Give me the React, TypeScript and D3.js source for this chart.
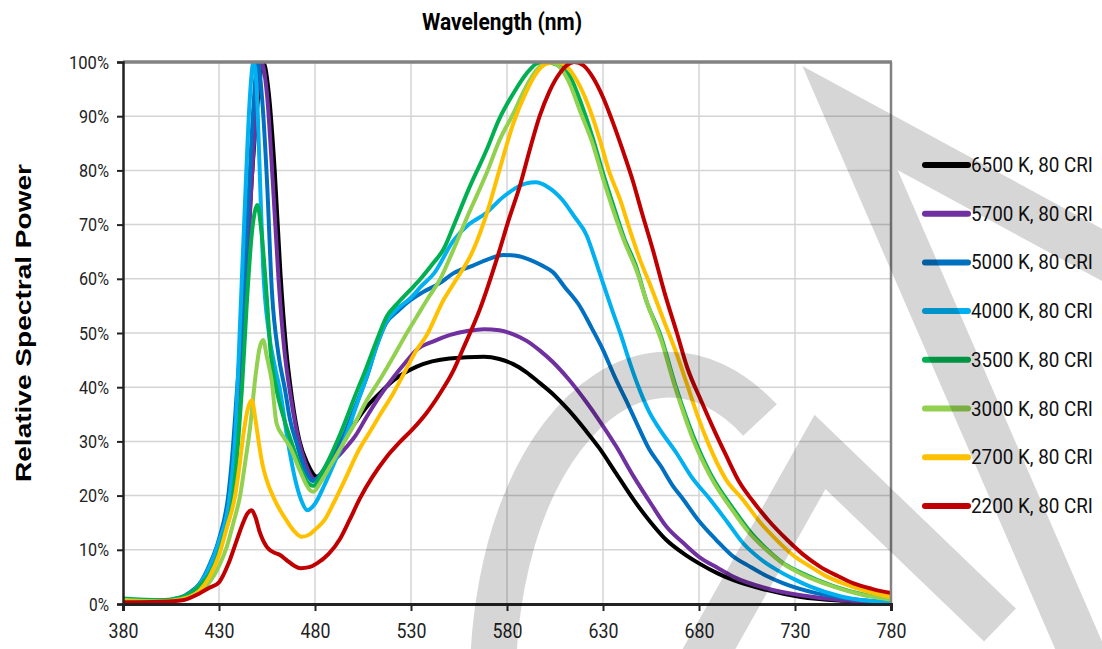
import { useEffect, useRef } from "react";
import * as d3 from "d3";

type Pt = [number, number];

// wavelength (nm) / relative power (%)
const xTicks = [380, 430, 480, 530, 580, 630, 680, 730, 780];
const yTicks = [0, 10, 20, 30, 40, 50, 60, 70, 80, 90, 100];

const seriesNames = [
  "6500 K, 80 CRI",
  "5700 K, 80 CRI",
  "5000 K, 80 CRI",
  "4000 K, 80 CRI",
  "3500 K, 80 CRI",
  "3000 K, 80 CRI",
  "2700 K, 80 CRI",
  "2200 K, 80 CRI",
];
const seriesColors = ["#000000", "#7030a0", "#0070c0", "#00b0f0", "#00b050", "#92d050", "#ffc000", "#c00000"];

const cct6500: Pt[] = [
  [380, 0.8], [400, 0.6], [410, 1.0], [415, 1.8], [420, 3.2], [425, 6.5], [430, 11], [435, 19], [438, 28],
  [441, 42], [444, 60], [447, 78], [450, 92], [453, 100], [456, 94], [459, 80], [462, 61], [465, 47], [468, 38],
  [472, 30], [476, 26], [481, 23.5], [487, 26], [493, 29.6], [500, 33], [507, 36.4], [514, 39], [521, 41.3],
  [533, 43.8], [550, 45.3], [568, 45.6], [576, 45.2], [583, 44.3], [590, 42.8], [597, 40.8], [604, 38.7],
  [612, 35.8], [621, 32], [628, 28.8], [637, 24], [646, 19.2], [655, 15], [663, 11.8], [672, 9.3], [680, 7.5],
  [690, 5.6], [698, 4.4], [715, 2.6], [733, 1.3], [755, 0.6], [780, 0.3],
];

const cct5700: Pt[] = [
  [380, 0.8], [400, 0.6], [410, 1.0], [415, 1.8], [420, 3.2], [425, 6.5], [430, 11], [435, 19.5], [438, 29],
  [441, 43], [444, 57], [447, 78], [450, 94], [452, 100], [455, 94], [458, 78], [461, 60], [464, 47], [467, 39],
  [471, 31], [475, 26], [480, 23], [487, 25.5], [495, 28.4], [501, 31], [507, 34.6], [514, 38.5], [521, 41.9],
  [527, 44.5], [533, 46.9], [542, 48.5], [550, 49.6], [560, 50.4], [568, 50.7], [576, 50.5], [583, 49.8],
  [590, 48.6], [597, 46.8], [604, 44.6], [612, 41.5], [621, 37.4], [628, 33.9], [637, 29], [646, 23.5],
  [655, 18.5], [663, 14.3], [672, 11.2], [680, 8.7], [690, 6.6], [698, 5], [715, 2.9], [733, 1.6], [755, 0.7],
  [780, 0.3],
];

const cct5000: Pt[] = [
  [380, 0.8], [400, 0.6], [410, 1.2], [415, 2.2], [420, 3.8], [425, 7.2], [430, 12], [435, 20.5], [437.5, 30],
  [439, 37.6], [442, 52], [445, 72], [448, 92], [450, 100], [452.5, 93], [455, 78], [457.5, 58], [461, 46],
  [464.4, 39.5], [467, 34], [470.4, 29.7], [474, 25.5], [479, 22.7], [484, 24.5], [489, 27.5], [494.7, 30.9],
  [501, 36.5], [507, 41.9], [512, 47.5], [517, 51.8], [523, 54], [529.5, 56], [536, 57.5], [545, 59.2],
  [552, 61], [562, 62.4], [570, 63.6], [578, 64.4], [584, 64.3], [592, 63.5], [598, 62.5], [604, 61.2],
  [610, 58.5], [618, 54.9], [624, 51], [630, 46.9], [636, 42], [642, 37.6], [648, 33], [654, 28.6],
  [660, 25.5], [666, 22], [672, 19.2], [680, 15.3], [689, 11.8], [697, 9], [706.5, 6.9], [715, 5.2],
  [724, 3.8], [741, 2], [760, 0.9], [780, 0.3],
];

const cct4000: Pt[] = [
  [380, 0.9], [400, 0.5], [410, 1.1], [415, 2], [420, 3.6], [425, 6.8], [430, 11.5], [435.5, 19.7], [438.3, 30],
  [441, 52], [444, 78], [446, 93], [448, 100], [449.5, 96], [451, 82], [453, 62], [456, 50], [459, 44],
  [462, 39], [466, 29.7], [470, 22.5], [473, 19], [476, 17.3], [480, 18.5], [485, 22], [490, 26], [495, 30],
  [501, 36], [507, 42], [512, 47.5], [517, 52], [523, 54.5], [530, 56.5], [535, 58.5], [542, 61], [552, 67],
  [560, 70], [569, 72.1], [578, 75.1], [590, 77.6], [595, 77.8], [601, 77], [609, 74.5], [615, 71.5],
  [621.5, 68], [626, 63.5], [630, 59.2], [635, 54], [639, 50], [644, 44.5], [648, 40.5], [654, 35.5],
  [660, 32], [668, 28], [676, 23.5], [686, 19.2], [695, 15], [703, 11.2], [712, 8.3], [720.5, 6.3],
  [730, 4.5], [738, 3.2], [755, 1.3], [780, 0.3],
];

const cct3500: Pt[] = [
  [380, 1.0], [400, 0.7], [410, 1.2], [415, 2], [420, 3.4], [425, 5.5], [428, 7.6], [432, 12], [437.2, 19.7],
  [440, 30], [442, 40], [444.4, 55], [447, 68], [450, 73.6], [452, 69], [454.8, 57], [457, 46], [460, 39.5],
  [464, 34], [467.9, 29.7], [472, 25.5], [476, 22.5], [479, 21.8], [484, 24.5], [489, 28], [494.7, 32.7],
  [501, 38.5], [507, 43.8], [512, 48.5], [517.3, 53], [523, 55.5], [529.5, 57.9], [535, 60], [541.6, 62.9],
  [547, 65.5], [552, 69.6], [560, 76.5], [569.4, 83.8], [576, 89.5], [583.3, 94.2], [590, 97.8], [596, 99.8],
  [600, 100], [606, 99.5], [612.8, 97.3], [619, 92], [625, 85.6], [630, 79.5], [635.4, 73.5], [641, 67.5],
  [647, 62.5], [653, 55.5], [660, 49.5], [668, 40], [677, 31], [686, 24], [698, 17.5], [707, 13.2],
  [715, 10.2], [724, 7.5], [733, 5.8], [750, 3.3], [765, 1.8], [780, 0.9],
];

const cct3000: Pt[] = [
  [380, 0.8], [400, 0.5], [410, 0.9], [415, 1.4], [420, 2.4], [425, 4], [430, 7], [434, 10.5], [437.5, 15],
  [441, 20], [444, 27], [446, 32], [449, 42], [451, 47], [453, 48.7], [455, 45.5], [457.4, 41.3], [460, 33.3],
  [463.5, 30.9], [467, 29], [472, 24.7], [477.4, 21], [479, 20.7], [483, 22.5], [488, 25.5], [494.7, 29.6],
  [501, 33.5], [507, 37.6], [514, 41.5], [520.8, 45.6], [527, 49.5], [533, 53], [539, 56.5], [545, 59.8],
  [552, 65.3], [560, 72], [569.4, 79.5], [576, 85.5], [583.3, 90.5], [590, 95.5], [595.4, 98.5], [602, 100],
  [606, 99.5], [612, 96.5], [618, 91], [625, 84.5], [630, 78.5], [635, 73], [641, 67], [647.5, 61.5],
  [653, 55.5], [660, 49], [668, 39.5], [677, 30.3], [686, 23.5], [698, 17], [706, 13.2], [715, 10],
  [724, 7.4], [733, 5.6], [750, 3.2], [765, 1.7], [780, 0.8],
];

const cct2700: Pt[] = [
  [380, 0.5], [400, 0.4], [410, 0.8], [415, 1.3], [420, 2.5], [425, 5], [430, 9], [434, 14], [438.3, 19.8],
  [440.5, 25], [442.7, 31.3], [445, 36], [447, 37.6], [449, 34], [450.5, 30.3], [452.5, 26], [454.8, 22.9],
  [459, 19.2], [465, 15.5], [469, 13.5], [473, 12.4], [477, 12.8], [480, 13.7], [485, 15.5], [489.5, 18.5],
  [495, 22.5], [503, 28.5], [509, 32], [514, 35], [520.8, 38.9], [527, 43], [533, 46.9], [538, 49.5],
  [546.8, 56], [552, 59], [562.4, 65.3], [569.4, 72], [576, 80], [583.3, 88.7], [590, 94.5], [595.4, 98],
  [600, 99.6], [606, 100], [611, 99.2], [616, 96.8], [622, 92.3], [628.4, 85.6], [633, 80], [639, 74.5],
  [644, 69], [649.3, 63.5], [655, 58.5], [662, 52], [668, 46.5], [673.6, 40.7], [679, 35], [685, 29.5],
  [694, 23], [703, 19.2], [712, 15], [720.5, 11.8], [729, 9], [738, 6.9], [747, 5], [755, 3.8], [767, 2.4],
  [780, 1.3],
];

const cct2200: Pt[] = [
  [380, 0.3], [400, 0.4], [411, 0.7], [420, 2], [425, 3], [430, 4], [435, 7.5], [439, 11.5], [442, 14.5],
  [445, 16.8], [447, 17.3], [449, 16], [451, 13.5], [454.8, 10.6], [458, 9.6], [462, 9], [465.2, 8.1],
  [469, 7.1], [472.5, 6.6], [477, 6.8], [481, 7.5], [487, 9.2], [493, 12], [498, 15.5], [503.4, 19.5],
  [510, 23.5], [517, 27], [524, 29.8], [531, 32.3], [538, 35.2], [545, 38.8], [552, 43], [557, 47], [566, 54.5],
  [575, 64], [581, 71], [587, 77.5], [592, 84], [597, 90], [602, 94.5], [607.6, 98], [615, 100],
  [620, 99.3], [625, 97], [630, 93.5], [635, 89], [640, 84], [645.6, 78], [650, 72.5], [656, 65.3],
  [662, 57.5], [668.5, 50], [674, 43.5], [681, 37.6], [688, 32], [694, 27.5], [701, 22.5], [708, 19],
  [716, 15.5], [726, 11.8], [734, 9.2], [743, 6.9], [752, 5.2], [760.5, 3.8], [770, 2.8], [780, 2],
];

const seriesData = [cct6500, cct5700, cct5000, cct4000, cct3500, cct3000, cct2700, cct2200];

const W = 1102;
const H = 649;
const narrow = "Roboto, 'Liberation Sans', sans-serif";

export default function App() {
  const svgRef = useRef<SVGSVGElement>(null);

  useEffect(() => {
    if (!svgRef.current) return;
    const svg = d3.select(svgRef.current);
    svg.selectAll("*").remove();

    const margin = { top: 62, right: 211, bottom: 45, left: 123 };
    const x = d3.scaleLinear().domain([380, 780]).range([margin.left, W - margin.right]);
    const y = d3.scaleLinear().domain([0, 100]).range([H - margin.bottom, margin.top]);
    const [x0, x1] = x.range();
    const [y0, y1] = y.range();

    svg.append("rect").attr("width", W).attr("height", H).attr("fill", "#fff");

    // grid
    svg
      .append("g")
      .selectAll("line")
      .data(xTicks.slice(1, -1))
      .join("line")
      .attr("x1", (d) => x(d))
      .attr("x2", (d) => x(d))
      .attr("y1", y1)
      .attr("y2", y0)
      .attr("stroke", "#d4d4d4")
      .attr("stroke-width", 1.5);
    svg
      .append("g")
      .selectAll("line")
      .data(yTicks.slice(1, -1))
      .join("line")
      .attr("x1", x0)
      .attr("x2", x1)
      .attr("y1", (d) => y(d))
      .attr("y2", (d) => y(d))
      .attr("stroke", "#d4d4d4")
      .attr("stroke-width", 1.5);

    svg
      .append("defs")
      .append("clipPath")
      .attr("id", "plot-clip")
      .append("rect")
      .attr("x", x0)
      .attr("y", y1 - 1)
      .attr("width", x1 - x0)
      .attr("height", y0 - y1 + 1);

    const line = d3
      .line<Pt>()
      .x((d) => x(d[0]))
      .y((d) => y(d[1]))
      .curve(d3.curveMonotoneX);

    svg
      .append("g")
      .attr("clip-path", "url(#plot-clip)")
      .selectAll("path")
      .data(seriesData)
      .join("path")
      .attr("d", (d) => line(d))
      .attr("fill", "none")
      .attr("stroke", (_, i) => seriesColors[i])
      .attr("stroke-width", 4)
      .attr("stroke-linejoin", "round")
      .attr("stroke-linecap", "round");

    // frame
    svg.append("line").attr("x1", x0).attr("x2", x1 + 1).attr("y1", y1).attr("y2", y1)
      .attr("stroke", "#828282").attr("stroke-width", 3.5);
    svg.append("line").attr("x1", x1).attr("x2", x1).attr("y1", y1).attr("y2", y0)
      .attr("stroke", "#828282").attr("stroke-width", 2.5);

    // y axis
    const yAxis = svg.append("g").attr("transform", `translate(${x0},0)`).call(
      d3.axisLeft(y).tickValues(yTicks).tickSize(6).tickPadding(8).tickFormat((d) => `${d}%`),
    );
    yAxis.select(".domain").attr("stroke", "#222").attr("stroke-width", 2.5);
    yAxis.selectAll(".tick line").attr("stroke", "#222").attr("stroke-width", 2);
    yAxis
      .selectAll<SVGTextElement, number>(".tick text")
      .attr("fill", "#222")
      .attr("font-family", narrow)
      .attr("font-size", 19)
      .attr("textLength", (d) => `${d}%`.length * 10)
      .attr("lengthAdjust", "spacingAndGlyphs");

    // x axis
    const xAxis = svg.append("g").attr("transform", `translate(0,${y0})`).call(
      d3.axisBottom(x).tickValues(xTicks).tickSize(7).tickPadding(12).tickFormat((d) => String(d)),
    );
    xAxis.select(".domain").attr("stroke", "#222").attr("stroke-width", 3);
    xAxis.selectAll(".tick line").attr("stroke", "#222").attr("stroke-width", 2);
    xAxis
      .selectAll(".tick text")
      .attr("fill", "#222")
      .attr("font-family", narrow)
      .attr("font-size", 21)
      .attr("textLength", 30)
      .attr("lengthAdjust", "spacingAndGlyphs");

    // titles
    svg.append("text").attr("x", 502).attr("y", 30).attr("text-anchor", "middle")
      .attr("font-family", narrow).attr("font-weight", "bold").attr("font-size", 23)
      .attr("textLength", 160).attr("lengthAdjust", "spacingAndGlyphs")
      .text("Wavelength (nm)");
    svg.append("text").attr("transform", "translate(31,323) rotate(-90)").attr("text-anchor", "middle")
      .attr("font-family", "'Liberation Sans', Arial, sans-serif").attr("font-weight", "bold").attr("font-size", 22)
      .attr("textLength", 318).attr("lengthAdjust", "spacingAndGlyphs")
      .text("Relative Spectral Power");

    // legend
    const legend = svg
      .append("g")
      .selectAll("g")
      .data(seriesNames)
      .join("g")
      .attr("transform", (_, i) => `translate(925,${165 + i * 48.7})`);
    legend.append("line").attr("x1", 0).attr("x2", 43).attr("stroke", (_, i) => seriesColors[i])
      .attr("stroke-width", 6).attr("stroke-linecap", "round");
    legend.append("text").attr("x", 46).attr("dy", "0.36em").attr("font-family", narrow)
      .attr("font-size", 19.5).attr("fill", "#111").attr("textLength", 122).attr("lengthAdjust", "spacingAndGlyphs")
      .text((d) => d);

    // watermark
    const wm = svg.append("g").attr("fill", "none").attr("stroke", "rgba(0,0,0,0.16)").attr("stroke-width", 46);
    wm.append("path").attr("d", "M 500 764 A 175 305 0 0 1 760 420");
    wm.append("path").attr("d", "M 1115 262 L 850 118 L 1085 660");
    wm.append("path").attr("d", "M 700 665 L 820 452 L 1000 625");
  }, []);

  return (
    <div style={{ position: "absolute", left: 0, top: 0 }}>
      <svg ref={svgRef} width={W} height={H} style={{ display: "block" }} />
    </div>
  );
}
